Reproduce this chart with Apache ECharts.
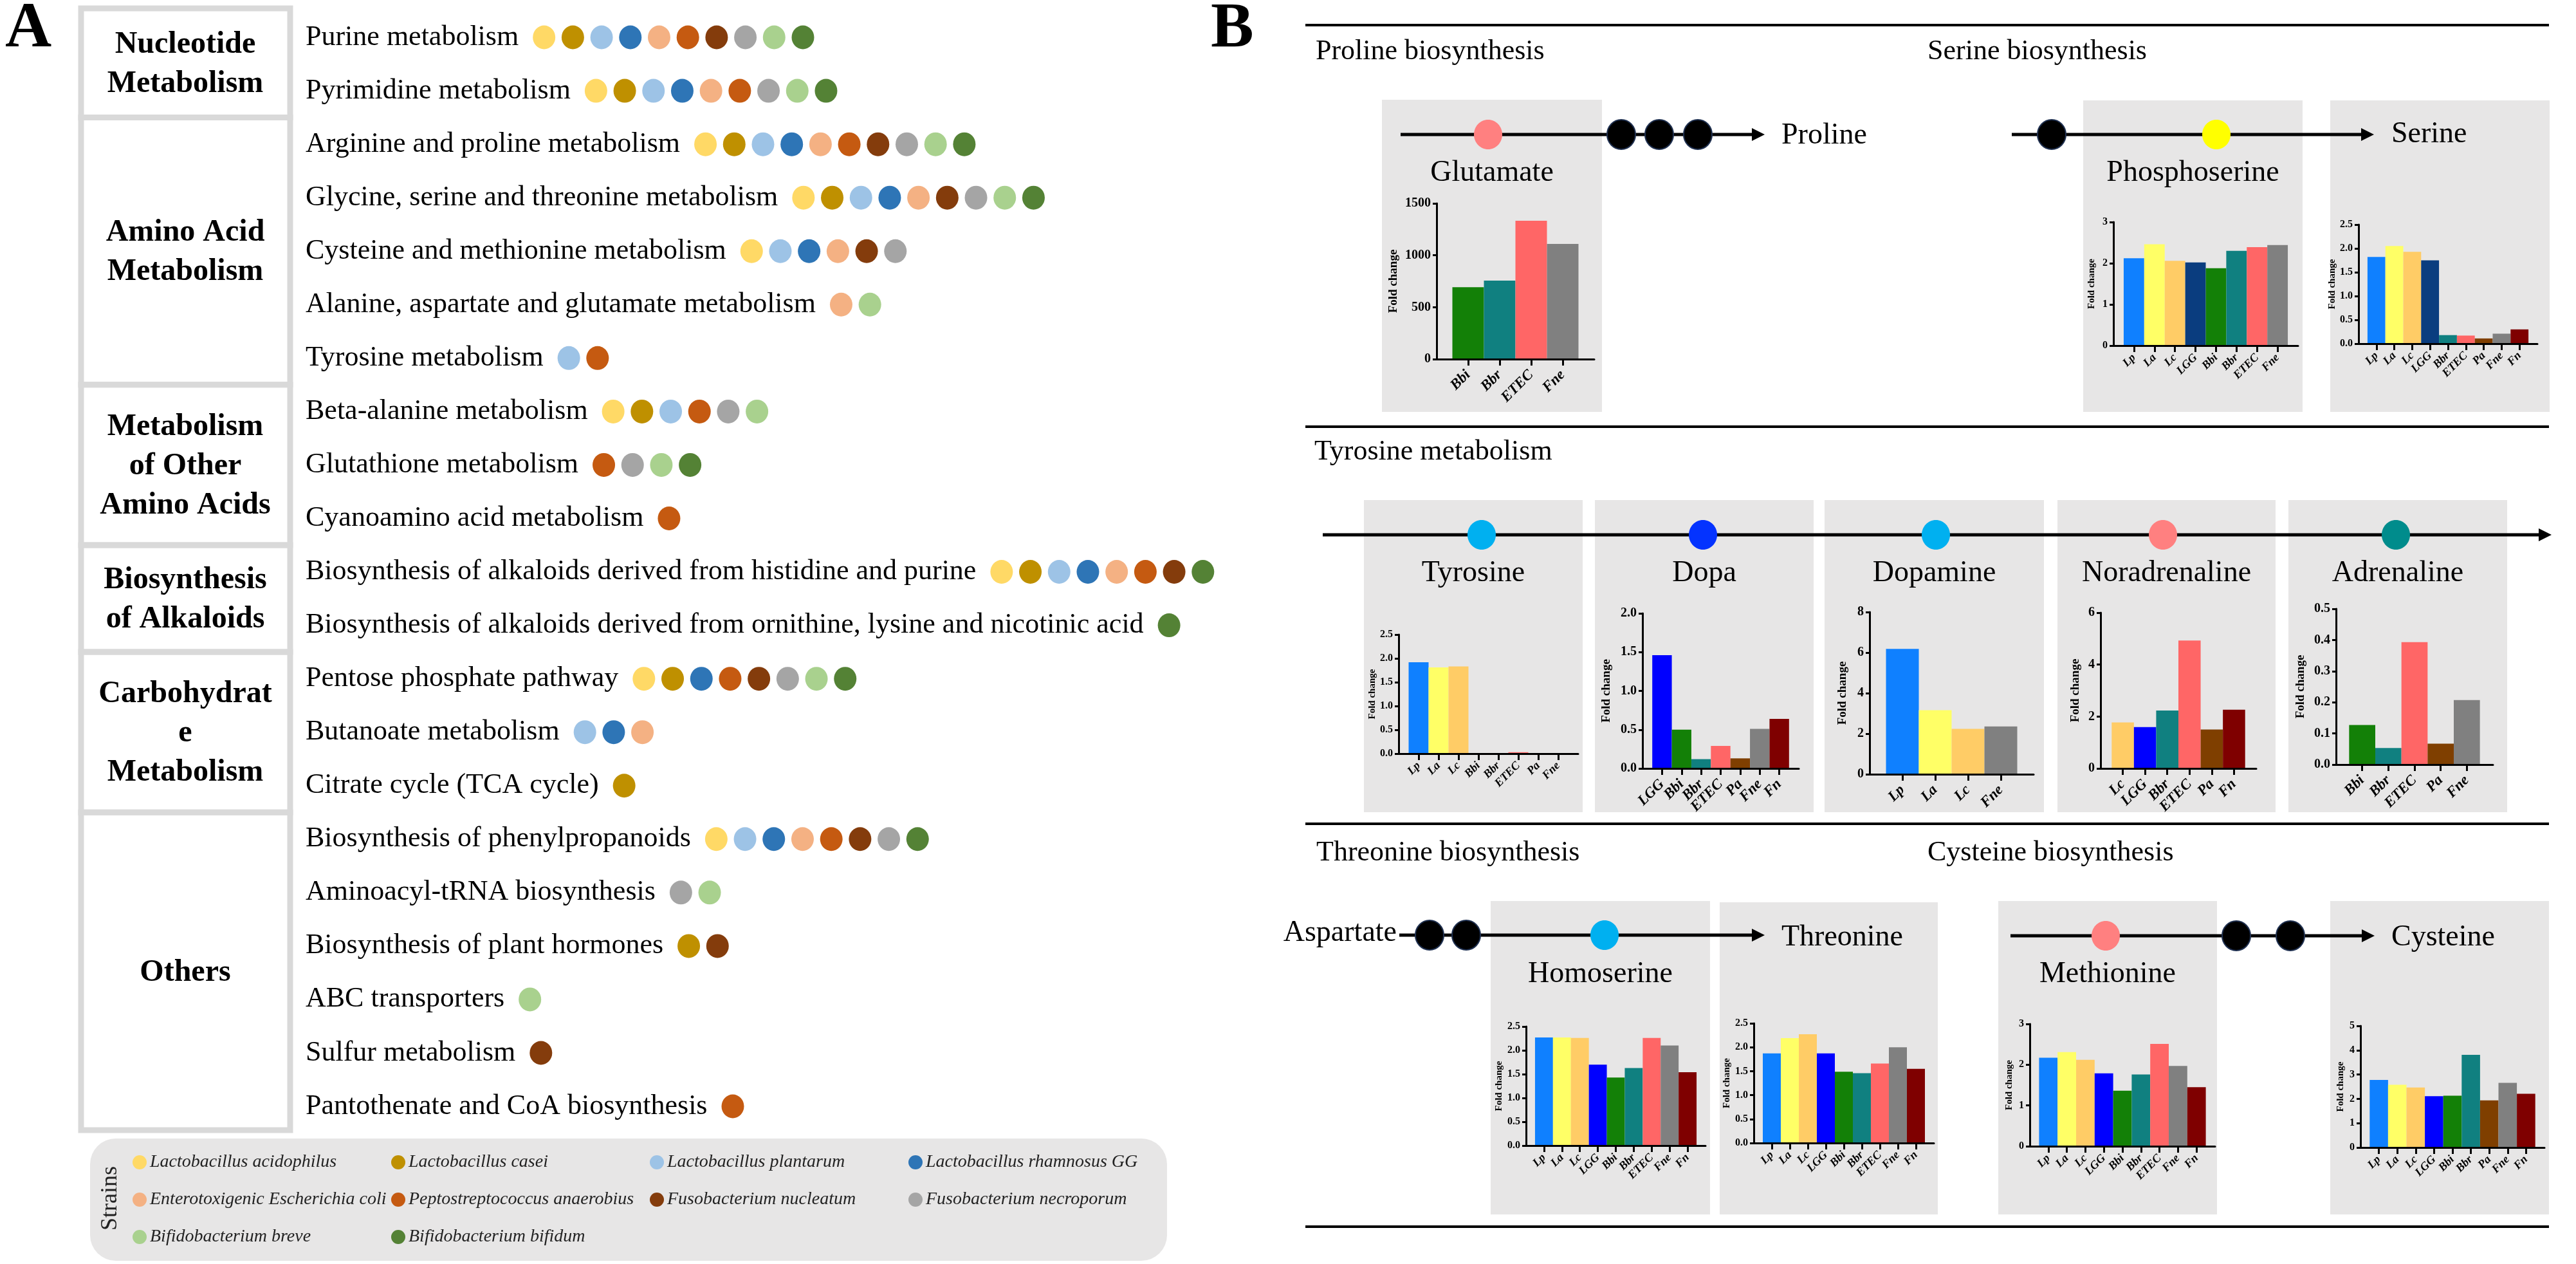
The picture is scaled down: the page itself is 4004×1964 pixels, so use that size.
<!DOCTYPE html>
<html><head><meta charset="utf-8">
<script src="https://cdn.jsdelivr.net/npm/echarts@6/dist/echarts.min.js"></script>
<style>html,body{margin:0;padding:0;background:#fff}#c{width:4004px;height:1964px}</style>
</head><body><div id="c"></div>
<script>
const FONT = '"Liberation Serif","Times New Roman","DejaVu Serif",serif';

// ---------------- Panel A data ----------------
const strainKeys = ['La','Lc','Lp','LGG','ETEC','Pa','Fn','Fne','Bbr','Bbi'];
const strainNames = ['Lactobacillus acidophilus','Lactobacillus casei','Lactobacillus plantarum','Lactobacillus rhamnosus GG',
  'Enterotoxigenic Escherichia coli','Peptostreptococcus anaerobius','Fusobacterium nucleatum','Fusobacterium necroporum',
  'Bifidobacterium breve','Bifidobacterium bifidum'];
const strainColors = ['#FFD966','#BF9000','#9DC3E6','#2E75B6','#F4B183','#C55A11','#843C0C','#A5A5A5','#A9D18E','#548235'];
const pathways = [
  'Purine metabolism','Pyrimidine metabolism',
  'Arginine and proline metabolism','Glycine, serine and threonine metabolism','Cysteine and methionine metabolism',
  'Alanine, aspartate and glutamate metabolism','Tyrosine metabolism',
  'Beta-alanine metabolism','Glutathione metabolism','Cyanoamino acid metabolism',
  'Biosynthesis of alkaloids derived from histidine and purine','Biosynthesis of alkaloids derived from ornithine, lysine and nicotinic acid',
  'Pentose phosphate pathway','Butanoate metabolism','Citrate cycle (TCA cycle)',
  'Biosynthesis of phenylpropanoids','Aminoacyl-tRNA biosynthesis','Biosynthesis of plant hormones','ABC transporters',
  'Sulfur metabolism','Pantothenate and CoA biosynthesis'];
const pathwayStrains = [
  ['La','Lc','Lp','LGG','ETEC','Pa','Fn','Fne','Bbr','Bbi'],
  ['La','Lc','Lp','LGG','ETEC','Pa','Fne','Bbr','Bbi'],
  ['La','Lc','Lp','LGG','ETEC','Pa','Fn','Fne','Bbr','Bbi'],
  ['La','Lc','Lp','LGG','ETEC','Fn','Fne','Bbr','Bbi'],
  ['La','Lp','LGG','ETEC','Fn','Fne'],
  ['ETEC','Bbr'],
  ['Lp','Pa'],
  ['La','Lc','Lp','Pa','Fne','Bbr'],
  ['Pa','Fne','Bbr','Bbi'],
  ['Pa'],
  ['La','Lc','Lp','LGG','ETEC','Pa','Fn','Bbi'],
  ['Bbi'],
  ['La','Lc','LGG','Pa','Fn','Fne','Bbr','Bbi'],
  ['Lp','LGG','ETEC'],
  ['Lc'],
  ['La','Lp','LGG','ETEC','Pa','Fn','Fne','Bbi'],
  ['Fne','Bbr'],
  ['Lc','Fn'],
  ['Bbr'],
  ['Fn'],
  ['Pa']];
const groupNames = ['Nucleotide\nMetabolism','Amino Acid\nMetabolism','Metabolism\nof Other\nAmino Acids','Biosynthesis\nof Alkaloids','Carbohydrat\ne\nMetabolism','Others'];
const groupRows = [2,5,3,2,3,6];

// ---------------- Panel B data ----------------
const barColors = {Lp:'#0F80FF',La:'#FFFF66',Lc:'#FFCC66',LGG:'#0000FF',Bbi:'#138007',Bbr:'#108080',ETEC:'#FF6666',Pa:'#7F3F00',Fne:'#808080',Fn:'#7F0000'};
const lggNavy = '#0A3D7F';

const glutamateCats = ['Bbi','Bbr','ETEC','Fne'];
const glutamateVals = [692,756,1333,1110];
const phosphoserineCats = ['Lp','La','Lc','LGG','Bbi','Bbr','ETEC','Fne'];
const phosphoserineVals = [2.12,2.46,2.06,2.02,1.88,2.30,2.39,2.44];
const serineCats = ['Lp','La','Lc','LGG','Bbr','ETEC','Pa','Fne','Fn'];
const serineVals = [1.82,2.05,1.93,1.75,0.18,0.17,0.11,0.21,0.30];
const tyrosineCats = ['Lp','La','Lc','Bbi','Bbr','ETEC','Pa','Fne'];
const tyrosineVals = [1.92,1.81,1.83,0,0,0.03,0,0];
const dopaCats = ['LGG','Bbi','Bbr','ETEC','Pa','Fne','Fn'];
const dopaVals = [1.46,0.50,0.12,0.29,0.13,0.51,0.64];
const dopamineCats = ['Lp','La','Lc','Fne'];
const dopamineVals = [6.18,3.16,2.24,2.36];
const noradrenalineCats = ['Lc','LGG','Bbr','ETEC','Pa','Fn'];
const noradrenalineVals = [1.77,1.59,2.23,4.93,1.50,2.26];
const adrenalineCats = ['Bbi','Bbr','ETEC','Pa','Fne'];
const adrenalineVals = [0.127,0.053,0.393,0.067,0.207];
const homoserineCats = ['Lp','La','Lc','LGG','Bbi','Bbr','ETEC','Fne','Fn'];
const homoserineVals = [2.27,2.27,2.26,1.70,1.43,1.63,2.26,2.10,1.54];
const threonineCats = ['Lp','La','Lc','LGG','Bbi','Bbr','ETEC','Fne','Fn'];
const threonineVals = [1.87,2.19,2.27,1.87,1.49,1.46,1.66,2.00,1.55];
const methionineCats = ['Lp','La','Lc','LGG','Bbi','Bbr','ETEC','Fne','Fn'];
const methionineVals = [2.17,2.31,2.12,1.79,1.36,1.76,2.51,1.97,1.45];
const cysteineCats = ['Lp','La','Lc','LGG','Bbi','Bbr','Pa','Fne','Fn'];
const cysteineVals = [2.78,2.58,2.47,2.11,2.13,3.81,1.94,2.66,2.21];

// ---------------- build ----------------
const grids = [], xAxes = [], yAxes = [], series = [], graphic = [];

// Panel A grid
const A_TOP = 16.5, A_H = 83.05, A_LEFT = 475, A_W = 1400;
grids.push({left:A_LEFT, top:A_TOP, width:A_W, height:A_H*pathways.length});
xAxes.push({gridIndex:0, type:'value', min:0, max:A_W, show:false});
yAxes.push({gridIndex:0, type:'category', inverse:true, data:pathways,
  axisLine:{show:false}, axisTick:{show:false}, splitLine:{show:false},
  axisLabel:{inside:true, margin:0, fontFamily:FONT, fontSize:44, color:'#000'}});

const ctx = document.createElement('canvas').getContext('2d');
ctx.font = '44px ' + FONT;
const rowTextW = pathways.map(p => ctx.measureText(p).width);
strainKeys.forEach((k, si) => {
  const data = [];
  pathwayStrains.forEach((list, r) => {
    const slot = list.indexOf(k);
    if (slot >= 0) data.push([rowTextW[r] + 22 + 17.5 + slot * 44.7, r]);
  });
  series.push({type:'scatter', name:strainNames[si], xAxisIndex:0, yAxisIndex:0, data,
    symbol:'circle', symbolSize:[35,37], itemStyle:{color:strainColors[si], opacity:1},
    emphasis:{disabled:true}, z:3});
});

// category boxes
let r0 = 0;
groupNames.forEach((g, i) => {
  const yTop = i === 0 ? 13 : A_TOP + r0 * A_H;
  r0 += groupRows[i];
  const yBot = i === groupNames.length - 1 ? 1756 : A_TOP + r0 * A_H;
  graphic.push({type:'rect', z:1, shape:{x:126, y:yTop, width:325, height:yBot - yTop},
    style:{fill:'rgba(0,0,0,0)', stroke:'#D9D9D9', lineWidth:9}});
  graphic.push({type:'text', z:12, x:288, y:(yTop + yBot) / 2 + 2,
    style:{text:g, fontFamily:FONT, fontWeight:'bold', fontSize:48, lineHeight:61, fill:'#000', align:'center', verticalAlign:'middle'}});
});
graphic.push({type:'text', z:12, x:8, y:46, style:{text:'A', fontFamily:FONT, fontWeight:'bold', fontSize:100, fill:'#000', align:'left', verticalAlign:'middle'}});
graphic.push({type:'text', z:12, x:1882, y:46, style:{text:'B', fontFamily:FONT, fontWeight:'bold', fontSize:100, fill:'#000', align:'left', verticalAlign:'middle'}});
graphic.push({type:'text', z:12, x:172, y:1862, rotation:Math.PI/2,
  style:{text:'Strains', fontFamily:FONT, fontSize:36, fill:'#222', align:'center', verticalAlign:'middle'}});

// Panel B decorations
[39, 663, 1280, 1906].forEach(y => graphic.push({type:'line', z:8, shape:{x1:2029, y1:y, x2:3962, y2:y}, style:{stroke:'#000', lineWidth:4}}));
const boxes = [
  ['Glutamate',2148,155,342,485],['Phosphoserine',3238,156,341,484],['',3622,156,341,484],
  ['Tyrosine',2120,777,340,485],['Dopa',2479,777,340,485],['Dopamine',2836,777,341,485],['Noradrenaline',3198,777,339,485],['Adrenaline',3557,777,340,485],
  ['Homoserine',2317,1400,341,487],['',2673,1402,339,485],['Methionine',3106,1400,340,487],['',3622,1400,340,487]];
boxes.forEach(b => {
  graphic.push({type:'rect', z:1, shape:{x:b[1], y:b[2], width:b[3], height:b[4]}, style:{fill:'#E7E6E6'}});
  if (b[0]) {
    const ly = b[2] < 300 ? 269 : (b[2] < 1000 ? 891 : 1514);
    graphic.push({type:'text', z:12, x:b[1] + b[3] / 2, y:ly, style:{text:b[0], fontFamily:FONT, fontSize:46, fill:'#000', align:'center', verticalAlign:'middle'}});
  }
});
const titles = [['Proline biosynthesis',2045,80],['Serine biosynthesis',2996,80],['Tyrosine metabolism',2043,702],['Threonine biosynthesis',2046,1325],['Cysteine biosynthesis',2996,1325]];
titles.forEach(t => graphic.push({type:'text', z:12, x:t[1], y:t[2], style:{text:t[0], fontFamily:FONT, fontSize:44, fill:'#000', align:'left', verticalAlign:'middle'}}));
const endLabels = [['Proline',2769,211,'left'],['Serine',3717,209,'left'],['Threonine',2769,1457,'left'],['Cysteine',3717,1457,'left'],['Aspartate',2171,1450,'right']];
endLabels.forEach(t => graphic.push({type:'text', z:12, x:t[1], y:t[2], style:{text:t[0], fontFamily:FONT, fontSize:46, fill:'#000', align:t[3], verticalAlign:'middle'}}));
const paths = [[2177,209,2743],[3127,209,3690],[2056,831,3966],[2175,1453,2743],[3125,1454,3691]];
paths.forEach(p => {
  graphic.push({type:'line', z:9, shape:{x1:p[0], y1:p[1], x2:p[2] - 14, y2:p[1]}, style:{stroke:'#000', lineWidth:5}});
  graphic.push({type:'polygon', z:9, shape:{points:[[p[2], p[1]], [p[2] - 20, p[1] - 10], [p[2] - 20, p[1] + 10]]}, style:{fill:'#000'}});
});
const nodes = [
  [2313,209,'#FF8080'],[2520,209,'k'],[2579,209,'k'],[2639,209,'k'],
  [3189,209,'k'],[3445,209,'#FFFF00'],
  [2303,831,'#00B0F0'],[2647,831,'#0433FF'],[3009,831,'#00B0F0'],[3362,831,'#FF8080'],[3724,831,'#008C8C'],
  [2222,1453,'k'],[2279,1453,'k'],[2494,1453,'#00B0F0'],
  [3273,1454,'#FF8080'],[3476,1454,'k'],[3560,1454,'k']];
nodes.forEach(n => graphic.push({type:'ellipse', z:10, shape:{cx:n[0], cy:n[1], rx:22, ry:23},
  style: n[2] === 'k' ? {fill:'#000', stroke:'#1F3050', lineWidth:2} : {fill:n[2]}}));

// bar charts
function addChart(cats, vals, L, lgg) {
  const n = cats.length;
  const w = (L.x1 - L.x0) / (n + 1);
  const gi = grids.length, xi = xAxes.length, yi = yAxes.length;
  const big = L.big;
  const tfs = big ? 20 : 16, nfs = big ? 19 : 15, cfs = big ? 23 : 18;
  grids.push({left:L.x0 + w / 2, top:L.top, width:n * w, height:L.y0 - L.top});
  grids.push({left:L.x0, top:L.top, width:L.x1 - L.x0, height:L.y0 - L.top});
  xAxes.push({gridIndex:gi, type:'category', data:cats, z:5,
    axisLine:{show:false}, axisTick:{show:true, alignWithLabel:true, length:10, lineStyle:{color:'#000', width:3}},
    axisLabel:{interval:0, rotate:45, margin:big ? 21 : 16, fontFamily:FONT, fontWeight:'bold', fontStyle:'italic', fontSize:cfs, color:'#000'}});
  yAxes.push({gridIndex:gi, type:'value', min:0, max:L.max, interval:L.step, offset:w / 2, z:5,
    axisLine:{show:true, lineStyle:{color:'#000', width:3}},
    axisTick:{show:true, length:6, lineStyle:{color:'#000', width:3}},
    splitLine:{show:false},
    axisLabel:{margin:9, fontFamily:FONT, fontWeight:'bold', fontSize:tfs, color:'#000', formatter:v => v.toFixed(L.dec)},
    name:'Fold change', nameLocation:'middle', nameGap:L.nd - nfs / 2,
    nameTextStyle:{fontFamily:FONT, fontWeight:'bold', fontSize:nfs, color:'#000'}});
  xAxes.push({gridIndex:gi + 1, type:'value', min:0, max:1, z:5,
    axisLine:{show:true, onZero:false, lineStyle:{color:'#000', width:3}},
    axisTick:{show:false}, axisLabel:{show:false}, splitLine:{show:false}});
  yAxes.push({gridIndex:gi + 1, type:'value', min:0, max:1, show:false});
  series.push({type:'bar', xAxisIndex:xi, yAxisIndex:yi, barCategoryGap:'0%', z:2,
    emphasis:{disabled:true},
    data:vals.map((v, i) => ({value:v, itemStyle:{color:(cats[i] === 'LGG' && lgg) ? lgg : barColors[cats[i]]}}))});
}
addChart(glutamateCats, glutamateVals, {x0:2233, x1:2478, top:316, y0:558, max:1500, step:500, dec:0, big:true, nd:67});
addChart(phosphoserineCats, phosphoserineVals, {x0:3285, x1:3572, top:345, y0:537, max:3, step:1, dec:0, big:false, nd:34}, lggNavy);
addChart(serineCats, serineVals, {x0:3666, x1:3944, top:349, y0:534, max:2.5, step:0.5, dec:1, big:false, nd:41}, lggNavy);
addChart(tyrosineCats, tyrosineVals, {x0:2174, x1:2453, top:986, y0:1171, max:2.5, step:0.5, dec:1, big:false, nd:41});
addChart(dopaCats, dopaVals, {x0:2553, x1:2796, top:953, y0:1194, max:2, step:0.5, dec:1, big:true, nd:56});
addChart(dopamineCats, dopamineVals, {x0:2906, x1:3161, top:951, y0:1203, max:8, step:2, dec:0, big:true, nd:42});
addChart(noradrenalineCats, noradrenalineVals, {x0:3265, x1:3507, top:952, y0:1194, max:6, step:2, dec:0, big:true, nd:39});
addChart(adrenalineCats, adrenalineVals, {x0:3631, x1:3875, top:946, y0:1188, max:0.5, step:0.1, dec:1, big:true, nd:55});
addChart(homoserineCats, homoserineVals, {x0:2372, x1:2651, top:1595, y0:1780, max:2.5, step:0.5, dec:1, big:false, nd:42});
addChart(threonineCats, threonineVals, {x0:2726, x1:3006, top:1590, y0:1776, max:2.5, step:0.5, dec:1, big:false, nd:42});
addChart(methionineCats, methionineVals, {x0:3155, x1:3443, top:1591, y0:1781, max:3, step:1, dec:0, big:false, nd:32});
addChart(cysteineCats, cysteineVals, {x0:3669, x1:3955, top:1594, y0:1783, max:5, step:1, dec:0, big:false, nd:31});

const chart = echarts.init(document.getElementById('c'));
chart.setOption({
  animation:false,
  backgroundColor:'#fff',
  grid:grids, xAxis:xAxes, yAxis:yAxes, series:series, graphic:graphic,
  legend:{data:strainNames, left:140, top:1769, width:1610, padding:[8,0,8,66],
    backgroundColor:'#E7E6E6', borderRadius:40, icon:'circle', itemWidth:22, itemHeight:22, itemGap:0,
    selectedMode:false,
    textStyle:{fontFamily:FONT, fontStyle:'italic', fontSize:28, color:'#222', width:375, overflow:'truncate', lineHeight:58}}
});
</script></body></html>
